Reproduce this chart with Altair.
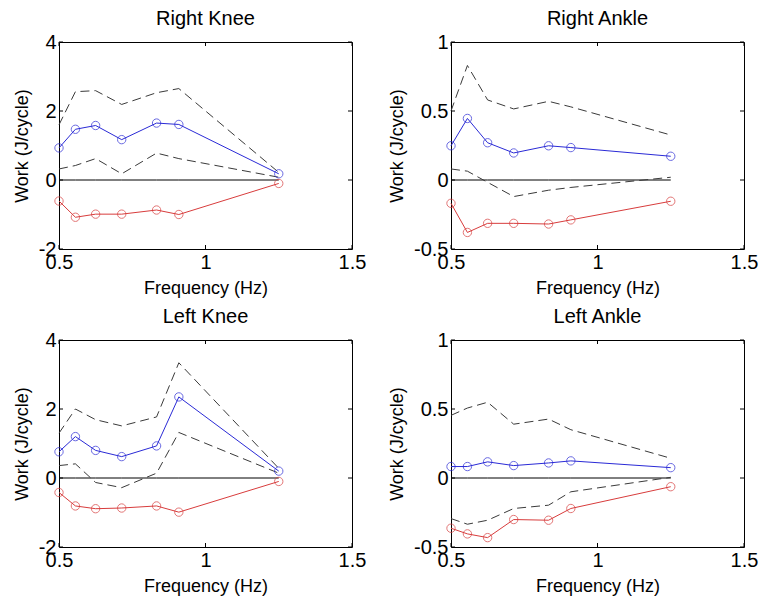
import altair as alt
import pandas as pd

# Frequencies (Hz)
freq = [0.5, 0.556, 0.625, 0.714, 0.833, 0.909, 1.25]

titles = ["Right Knee", "Right Ankle", "Left Knee", "Left Ankle"]

# Right Knee
rk_pos = [0.93, 1.47, 1.58, 1.17, 1.65, 1.61, 0.18]
rk_neg = [-0.61, -1.08, -0.99, -0.99, -0.87, -1.00, -0.10]
rk_up = [1.60, 2.56, 2.59, 2.19, 2.53, 2.65, 0.22]
rk_lo = [0.32, 0.42, 0.62, 0.18, 0.78, 0.62, 0.08]

# Right Ankle
ra_pos = [0.248, 0.446, 0.270, 0.196, 0.248, 0.235, 0.172]
ra_neg = [-0.169, -0.380, -0.314, -0.314, -0.319, -0.289, -0.154]
ra_up = [0.50, 0.83, 0.58, 0.515, 0.57, 0.53, 0.326]
ra_lo = [0.08, 0.064, -0.017, -0.12, -0.074, -0.054, 0.02]

# Left Knee
lk_pos = [0.76, 1.20, 0.80, 0.62, 0.93, 2.35, 0.20]
lk_neg = [-0.42, -0.81, -0.89, -0.87, -0.81, -0.99, -0.10]
lk_up = [1.30, 2.00, 1.69, 1.51, 1.77, 3.34, 0.28]
lk_lo = [0.36, 0.41, -0.13, -0.28, 0.14, 1.32, 0.14]

# Left Ankle
la_pos = [0.083, 0.083, 0.117, 0.090, 0.109, 0.124, 0.075]
la_neg = [-0.364, -0.405, -0.432, -0.301, -0.306, -0.221, -0.063]
la_up = [0.454, 0.507, 0.549, 0.39, 0.427, 0.35, 0.143]
la_lo = [-0.294, -0.335, -0.306, -0.221, -0.197, -0.10, 0.005]

series = [
    (rk_pos, rk_neg, rk_up, rk_lo),
    (ra_pos, ra_neg, ra_up, ra_lo),
    (lk_pos, lk_neg, lk_up, lk_lo),
    (la_pos, la_neg, la_up, la_lo),
]

x_ticks = [0.5, 1, 1.5]
knee_ticks = [-2, 0, 2, 4]
ankle_ticks = [-0.5, 0, 0.5, 1]
y_ticks = [knee_ticks, ankle_ticks, knee_ticks, ankle_ticks]

W, H = 293, 207
FONT = "Liberation Sans"
BLUE = "#2a2ad6"
RED = "#d83c3c"
DASH = "#3a3a3a"
TICK = 4


def panel(i):
    pos, neg, up, lo = series[i]
    yt = y_ticks[i]
    df = pd.DataFrame({"f": freq, "pos": pos, "neg": neg, "up": up, "lo": lo,
                       "zero": [0.0] * len(freq)})
    xt = pd.DataFrame({"t": x_ticks})
    ytd = pd.DataFrame({"t": yt})

    xscale = alt.Scale(domain=[x_ticks[0], x_ticks[-1]], nice=False, zero=False)
    yscale = alt.Scale(domain=[yt[0], yt[-1]], nice=False, zero=False)
    xaxis = alt.Axis(values=x_ticks, labelExpr="'' + datum.value", labelFlush=False,
                     title="Frequency (Hz)", titlePadding=7)
    yaxis = alt.Axis(values=yt, labelExpr="'' + datum.value", labelFlush=False,
                     title="Work (J/cycle)", titlePadding=7)

    def X(field):
        return alt.X(field, type="quantitative", scale=xscale, axis=xaxis)

    def Y(field):
        return alt.Y(field, type="quantitative", scale=yscale, axis=yaxis)

    base = alt.Chart(df)
    zero = base.mark_line(color="black", strokeWidth=1).encode(x=X("f"), y=Y("zero"))
    bounds = base.transform_fold(["up", "lo"], as_=["bound", "v"]).mark_line(
        color=DASH, strokeWidth=1, strokeDash=[9, 5]
    ).encode(x=X("f"), y=Y("v"), detail="bound:N")
    pos_line = base.mark_line(color=BLUE, strokeWidth=1).encode(x=X("f"), y=Y("pos"))
    pos_pts = base.mark_point(color=BLUE, shape="circle", filled=False, size=70,
                              strokeWidth=1).encode(x=X("f"), y=Y("pos"))
    neg_line = base.mark_line(color=RED, strokeWidth=1).encode(x=X("f"), y=Y("neg"))
    neg_pts = base.mark_point(color=RED, shape="circle", filled=False, size=70,
                              strokeWidth=1).encode(x=X("f"), y=Y("neg"))

    # inward tick marks on all four sides (MATLAB box style)
    xb = alt.Chart(xt).mark_rule(color="black", strokeWidth=1).encode(
        x=X("t"), y=alt.value(H), y2=alt.value(H - TICK))
    xtop = alt.Chart(xt).mark_rule(color="black", strokeWidth=1).encode(
        x=X("t"), y=alt.value(0), y2=alt.value(TICK))
    yl = alt.Chart(ytd).mark_rule(color="black", strokeWidth=1).encode(
        y=Y("t"), x=alt.value(0), x2=alt.value(TICK))
    yr = alt.Chart(ytd).mark_rule(color="black", strokeWidth=1).encode(
        y=Y("t"), x=alt.value(W - TICK), x2=alt.value(W))

    return alt.layer(zero, bounds, pos_line, neg_line, pos_pts, neg_pts,
                     xb, xtop, yl, yr).properties(
        width=W, height=H,
        title=alt.TitleParams(titles[i], fontSize=20, font=FONT, fontWeight="normal",
                              color="black", offset=3),
    )


chart = alt.concat(*[panel(i) for i in range(4)], columns=2,
                   spacing={"row": 91, "column": 99}, bounds="flush").properties(
    padding={"left": 12, "top": 8, "right": 0, "bottom": 0},
    background="white",
).configure_view(
    stroke="black", strokeWidth=1
).configure_axis(
    grid=False, domain=False, tickSize=0, labelPadding=3,
    labelFont=FONT, labelFontSize=20, labelColor="black",
    titleFont=FONT, titleFontSize=18, titleFontWeight="normal", titleColor="black",
)

chart.save("out.html", embed_options={"renderer": "svg", "actions": False})
